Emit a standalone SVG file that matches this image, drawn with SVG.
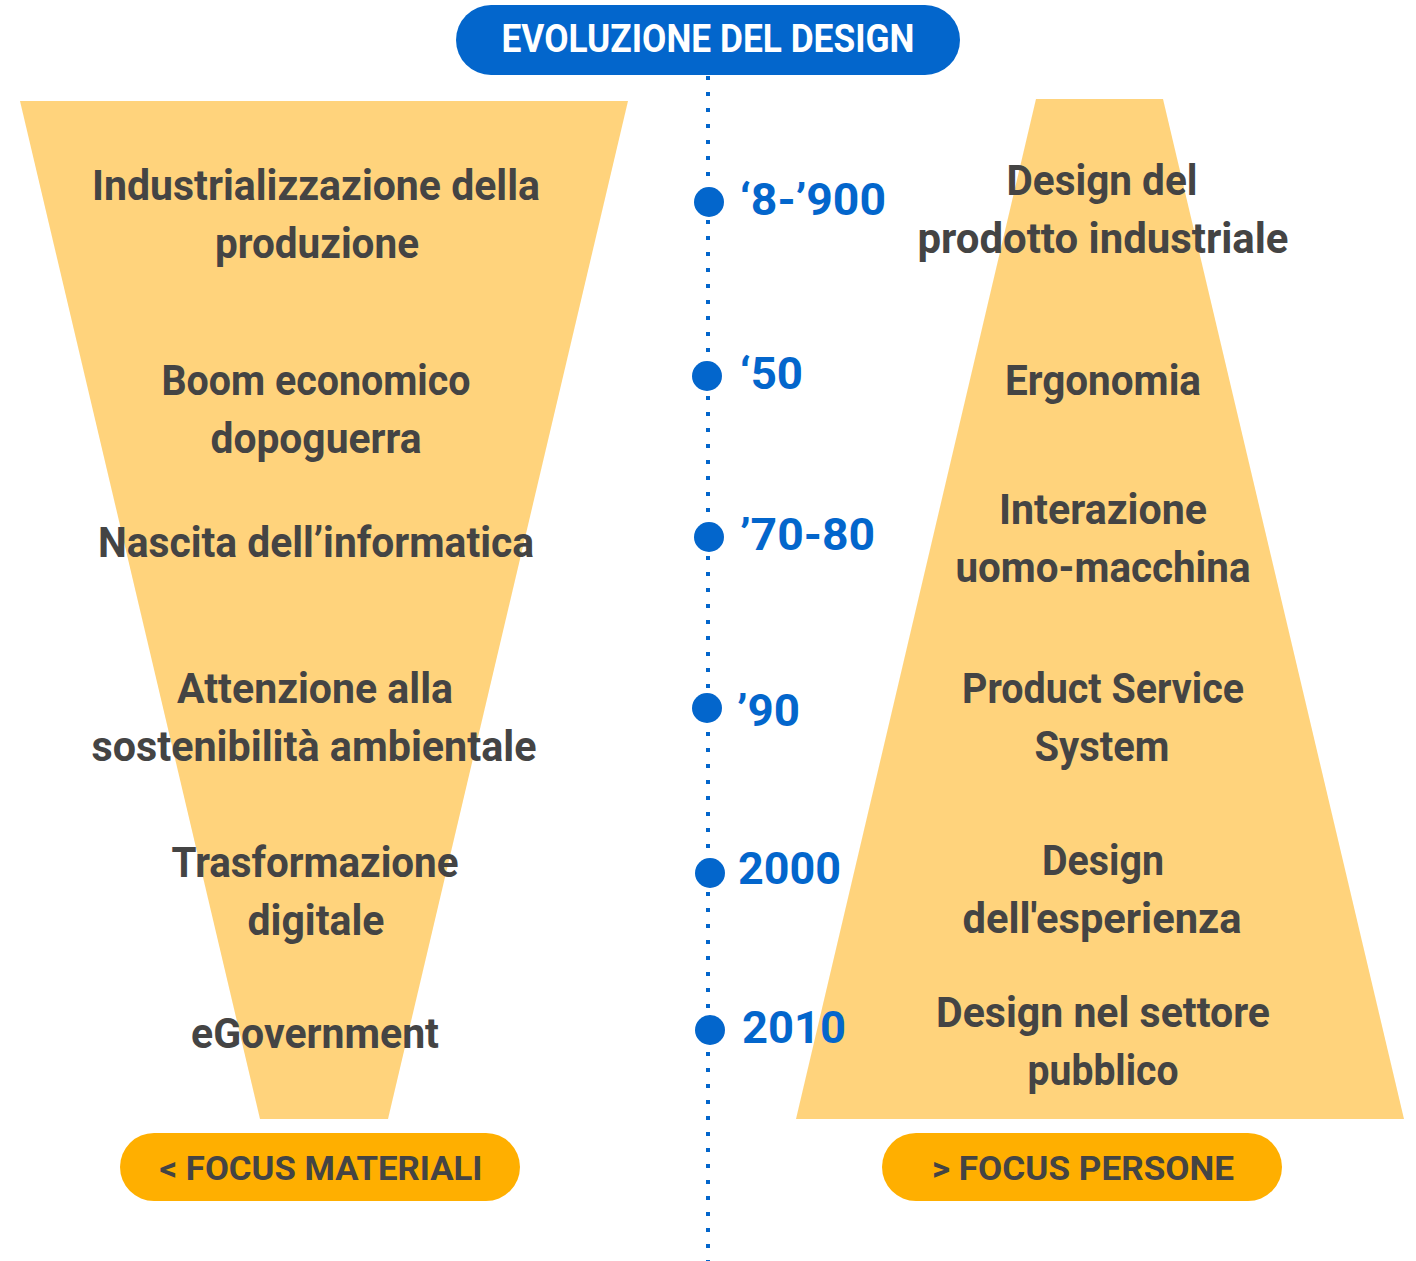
<svg xmlns="http://www.w3.org/2000/svg" width="1416" height="1261" viewBox="0 0 1416 1261">
<style>
.t{font-family:Roboto,"Liberation Sans",sans-serif;font-weight:700;font-size:42px;fill:#444444;text-anchor:middle}
.y{font-family:Roboto,"Liberation Sans",sans-serif;font-weight:700;font-size:45px;fill:#0366CC}
.p{font-family:Roboto,"Liberation Sans",sans-serif;font-weight:700;font-size:34px;fill:#444444;text-anchor:middle}
.h{font-family:Roboto,"Liberation Sans",sans-serif;font-weight:700;font-size:38px;fill:#ffffff;text-anchor:middle}
.dot{fill:#0366CC}
.fun{fill:#FFD37C}
.pill{fill:#FFAF00}
</style>
<g id="funnel-left"><polygon class="fun" points="20,101 628,101 388,1119 260,1119"/></g>
<g id="funnel-right"><polygon class="fun" points="1036,99 1163,99 1404,1119 796,1119"/></g>
<g id="connectors"><line x1="708" y1="76" x2="708" y2="1261" stroke="#0366CC" stroke-width="4" stroke-dasharray="4 12"/></g>
<g id="title"><rect x="456" y="5" width="504" height="70" rx="35" fill="#0366CC"/><text class="h" x="708" y="52" textLength="413" lengthAdjust="spacingAndGlyphs">EVOLUZIONE DEL DESIGN</text></g>
<g id="left-texts">
<text class="t" x="316" y="200" textLength="448" lengthAdjust="spacingAndGlyphs">Industrializzazione della</text>
<text class="t" x="317" y="258" textLength="204" lengthAdjust="spacingAndGlyphs">produzione</text>
<text class="t" x="316" y="395" textLength="309" lengthAdjust="spacingAndGlyphs">Boom economico</text>
<text class="t" x="316" y="453" textLength="211" lengthAdjust="spacingAndGlyphs">dopoguerra</text>
<text class="t" x="316" y="557" textLength="436" lengthAdjust="spacingAndGlyphs">Nascita dell’informatica</text>
<text class="t" x="315" y="703" textLength="276" lengthAdjust="spacingAndGlyphs">Attenzione alla</text>
<text class="t" x="314" y="761" textLength="445" lengthAdjust="spacingAndGlyphs">sostenibilità ambientale</text>
<text class="t" x="315" y="877" textLength="287" lengthAdjust="spacingAndGlyphs">Trasformazione</text>
<text class="t" x="316" y="935" textLength="137" lengthAdjust="spacingAndGlyphs">digitale</text>
<text class="t" x="315" y="1048" textLength="248" lengthAdjust="spacingAndGlyphs">eGovernment</text>
</g>
<g id="right-texts">
<text class="t" x="1102" y="195" textLength="191" lengthAdjust="spacingAndGlyphs">Design del</text>
<text class="t" x="1103" y="253" textLength="371" lengthAdjust="spacingAndGlyphs">prodotto industriale</text>
<text class="t" x="1103" y="395" textLength="196" lengthAdjust="spacingAndGlyphs">Ergonomia</text>
<text class="t" x="1103" y="524" textLength="208" lengthAdjust="spacingAndGlyphs">Interazione</text>
<text class="t" x="1103" y="582" textLength="295" lengthAdjust="spacingAndGlyphs">uomo-macchina</text>
<text class="t" x="1103" y="703" textLength="282" lengthAdjust="spacingAndGlyphs">Product Service</text>
<text class="t" x="1102" y="761" textLength="135" lengthAdjust="spacingAndGlyphs">System</text>
<text class="t" x="1103" y="875" textLength="122" lengthAdjust="spacingAndGlyphs">Design</text>
<text class="t" x="1102" y="933" textLength="279" lengthAdjust="spacingAndGlyphs">dell'esperienza</text>
<text class="t" x="1103" y="1027" textLength="334" lengthAdjust="spacingAndGlyphs">Design nel settore</text>
<text class="t" x="1103" y="1085" textLength="151" lengthAdjust="spacingAndGlyphs">pubblico</text>
</g>
<g id="timeline">
<circle class="dot" cx="709" cy="202" r="15"/><text class="y" x="740" y="215" textLength="146" lengthAdjust="spacingAndGlyphs">‘8-’900</text>
<circle class="dot" cx="707" cy="376" r="15"/><text class="y" x="740" y="389" textLength="63" lengthAdjust="spacingAndGlyphs">‘50</text>
<circle class="dot" cx="709" cy="537" r="15"/><text class="y" x="740" y="550" textLength="135" lengthAdjust="spacingAndGlyphs">’70-80</text>
<circle class="dot" cx="707" cy="708" r="15"/><text class="y" x="737" y="726" textLength="63" lengthAdjust="spacingAndGlyphs">’90</text>
<circle class="dot" cx="710" cy="873" r="15"/><text class="y" x="738" y="884" textLength="103" lengthAdjust="spacingAndGlyphs">2000</text>
<circle class="dot" cx="710" cy="1030" r="15"/><text class="y" x="742" y="1043" textLength="104" lengthAdjust="spacingAndGlyphs">2010</text>
</g>
<g id="focus-materiali"><rect class="pill" x="120" y="1133" width="400" height="68" rx="34"/><text class="p" x="321" y="1180" textLength="323" lengthAdjust="spacingAndGlyphs">&lt; FOCUS MATERIALI</text></g>
<g id="focus-persone"><rect class="pill" x="882" y="1133" width="400" height="68" rx="34"/><text class="p" x="1083" y="1180" textLength="302" lengthAdjust="spacingAndGlyphs">&gt; FOCUS PERSONE</text></g>
</svg>
